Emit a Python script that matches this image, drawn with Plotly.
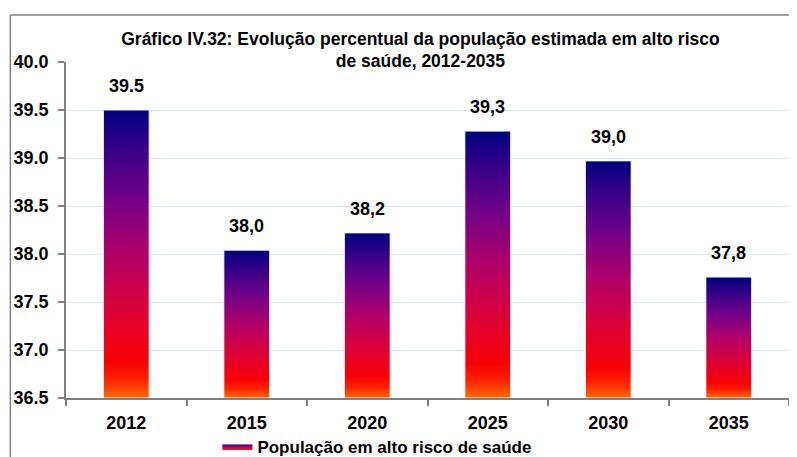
import plotly.graph_objects as go

# dados
anos = ["2012", "2015", "2020", "2025", "2030", "2035"]
valores = [39.5, 38.04, 38.22, 39.28, 38.97, 37.76]
rotulos = ["39.5", "38,0", "38,2", "39,3", "39,0", "37,8"]
serie = "População em alto risco de saúde"
titulo = ("Gráfico IV.32: Evolução percentual da população estimada em alto risco"
          "<br>de saúde, 2012-2035")

BASE = 36.5
LARG = 0.19  # meia largura da barra
FONTE = "Liberation Sans Narrow, Arial Narrow, Liberation Sans, Arial"

# gradiente vertical: 0 = base (laranja), 1 = topo (azul marinho)
gradiente = [
    [0.0, "#ff6a00"],
    [0.07, "#ff1e00"],
    [0.13, "#f80004"],
    [0.32, "#d8003c"],
    [0.5, "#b00068"],
    [0.7, "#700088"],
    [0.85, "#3c0088"],
    [1.0, "#000080"],
]

fig = go.Figure()

for i, v in enumerate(valores):
    fig.add_trace(go.Scatter(
        x=[i - LARG, i + LARG, i + LARG, i - LARG, i - LARG],
        y=[BASE, BASE, v, v, BASE],
        mode="lines",
        fill="toself",
        fillgradient=dict(type="vertical", colorscale=gradiente),
        line=dict(color="rgba(255,255,255,0.9)", width=1),
        name=serie,
        showlegend=(i == 0),
        hoverinfo="skip",
    ))
    fig.add_annotation(
        x=i, y=v, text=rotulos[i], showarrow=False,
        yanchor="bottom", yshift=12,
        font=dict(family=FONTE, size=18, color="black", weight="bold"),
    )

# moldura do gráfico (só as bordas esquerda e superior ficam visíveis)
borda = dict(color="#808080", width=1.5)
fig.add_shape(type="line", xref="paper", yref="paper",
              x0=-0.077, x1=-0.077, y0=-0.25, y1=1.14, line=borda)
fig.add_shape(type="line", xref="paper", yref="paper",
              x0=-0.077, x1=1.03, y0=1.14, y1=1.14, line=borda)

fig.update_layout(
    width=797, height=457,
    margin=dict(l=58, r=16, t=54, b=67, autoexpand=False),
    paper_bgcolor="white", plot_bgcolor="white",
    title=dict(text=titulo, x=0.5175, xanchor="center", y=0.92, yanchor="top",
               font=dict(family=FONTE, size=17.5, color="black", weight="bold")),
    showlegend=True,
    legend=dict(orientation="h", x=0.43, xanchor="center",
                yref="container", y=0.08, yanchor="top",
                bgcolor="rgba(0,0,0,0)",
                font=dict(family=FONTE, size=17, color="black", weight="bold"),
                itemwidth=30),
)

fig.update_xaxes(
    range=[-0.5, 5.5],
    tickmode="array", tickvals=list(range(len(anos))), ticktext=anos,
    ticks="", showgrid=False, zeroline=False, automargin=False,
    ticklabelstandoff=8,
    showline=True, linecolor="#808080", linewidth=1.5,
    tickfont=dict(family=FONTE, size=18, color="black", weight="bold"),
    minor=dict(tick0=-0.5, dtick=1, ticks="outside", ticklen=6,
               tickcolor="#808080", tickwidth=1.5, showgrid=False),
)
fig.update_yaxes(
    range=[BASE, 40.0], dtick=0.5, tick0=BASE, tickformat=".1f",
    ticks="outside", ticklen=6, tickcolor="#808080", tickwidth=1.5,
    ticklabelstandoff=6,
    showline=True, linecolor="#808080", linewidth=1.5, automargin=False,
    showgrid=True, gridcolor="#dde5f2", gridwidth=1, zeroline=False,
    tickfont=dict(family=FONTE, size=18, color="black", weight="bold"),
)

fig.write_html("out.html")
